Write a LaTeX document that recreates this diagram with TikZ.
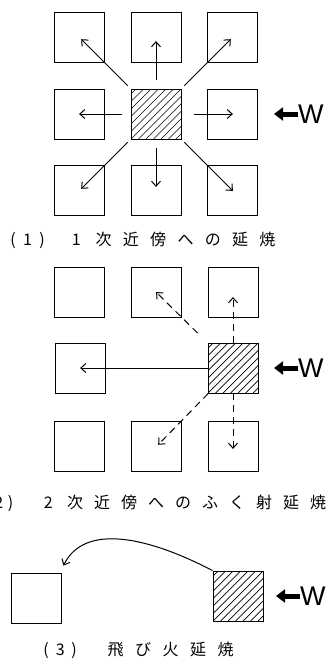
\documentclass[tikz,border=0pt]{standalone}
\usepackage{fontspec}
\newfontfamily\cjk{Noto Sans CJK JP}
\newfontfamily\windfont{Liberation Sans}
\usetikzlibrary{arrows.meta, positioning}

\newcommand\spaced[2]{\def\spacedpitch{#1}\spacedloop#2\relax}
\def\spacedloop#1{\ifx\relax#1\else\makebox[\spacedpitch]{#1}\expandafter\spacedloop\fi}

\begin{document}
\begin{tikzpicture}[
  x=1pt, y=1pt,
  cell/.style={draw, line width=0.9pt, minimum size=50pt, inner sep=0pt},
  burning/.style={cell, path picture={
    \foreach \k in {-7,...,7}
      \draw[line width=0.7pt] ([xshift=\k*7.5pt]path picture bounding box.south west) -- ++(60pt,60pt);
  }},
  spread/.style={-{Straight Barb[length=5pt,width=9pt]}, line width=1pt},
  radiant/.style={spread, dash pattern=on 7pt off 5pt},
  windarrow/.style={-{Triangle[length=9pt,width=13pt]}, line width=5pt},
  wind/.style={font=\windfont\fontsize{27}{27}\selectfont, inner sep=0pt},
  caption/.style={font=\cjk\fontsize{16}{16}\selectfont, inner sep=0pt, anchor=west}
]
\useasboundingbox (0,0) rectangle (332,-661);

% (1)
\node[burning] (f1) at (156,-114) {};
\node[cell, above=26pt of f1] (n1) {};
\node[cell, below=26pt of f1] (s1) {};
\node[cell, left=26pt of f1] (w1) {};
\node[cell, right=26pt of f1] (e1) {};
\node[cell, above left=26pt and 26pt of f1] (nw1) {};
\node[cell, above right=26pt and 26pt of f1] (ne1) {};
\node[cell, below left=26pt and 26pt of f1] (sw1) {};
\node[cell, below right=26pt and 26pt of f1] (se1) {};
\node[wind, anchor=west] (wind1) at (298,-114) {W};
\coordinate (gust1) at ([xshift=-24pt]wind1.west);

\draw[spread, shorten <=9pt, shorten >=4pt] (f1) -- (n1.center);
\draw[spread, shorten <=9pt, shorten >=4pt] (f1) -- (s1.center);
\draw[spread, shorten <=9pt] (f1) -- (w1.center);
\draw[spread, shorten <=13pt] (f1) -- (e1.center);
\draw[spread, shorten <=4pt, shorten >=3pt] (f1) -- (nw1.center);
\draw[spread, shorten <=4pt, shorten >=3pt] (f1) -- (ne1.center);
\draw[spread, shorten <=4pt, shorten >=3pt] (f1) -- (sw1.center);
\draw[spread, shorten <=4pt] (f1) -- (se1.center);
\draw[windarrow] (wind1.west) -- (gust1);

\node[caption] (cap1) at (5.75,-240) {\spaced{14.5pt}{(1)}\hspace{13.25pt}\spaced{27.3pt}{1次近傍への延焼}};

% (2)
\node[burning] (f2) at (233,-368) {};
\node[cell, above=25pt of f2] (n2) {};
\node[cell, left=26pt of n2] (nm2) {};
\node[cell, left=26pt of nm2] (nw2) {};
\node[cell, left=102pt of f2] (w2) {};
\node[cell, below=28pt of f2] (s2) {};
\node[cell, left=26pt of s2] (sm2) {};
\node[cell, left=26pt of sm2] (sw2) {};
\node[wind, anchor=west] (wind2) at (298,-368) {W};
\coordinate (gust2) at ([xshift=-24pt]wind2.west);

\draw[spread] (f2) -- (w2.center);
\draw[radiant, shorten <=14pt] (f2) -- (nm2.center);
\draw[radiant, shorten >=5pt] (f2) -- (n2.center);
\draw[radiant, shorten >=3pt] (f2) -- (sm2.center);
\draw[radiant, shorten >=-2pt] (f2) -- (s2.center);
\draw[windarrow] (wind2.west) -- (gust2);

\node[caption] (cap2) at (-19.5,-503) {\spaced{12pt}{(2)}\hspace{18pt}\spaced{27pt}{2次近傍へのふく射延焼}};

% (3)
\node[burning] (f3) at (238,-596) {};
\node[cell] (t3) at (36,-598) {};
\node[wind, anchor=west] (wind3) at (300,-596) {W};
\coordinate (gust3) at ([xshift=-24pt]wind3.west);
\coordinate (ember) at ([shift={(2pt,7pt)}]t3.north east);

\draw[spread] (f3.north west) .. controls (150,-538) and (85,-522) .. (ember);
\draw[windarrow] (wind3.west) -- (gust3);

\node[caption] (cap3) at (39,-650) {\spaced{14pt}{(3)}\hspace{20.75pt}\spaced{27.5pt}{飛び火延焼}};
\end{tikzpicture}
\end{document}
